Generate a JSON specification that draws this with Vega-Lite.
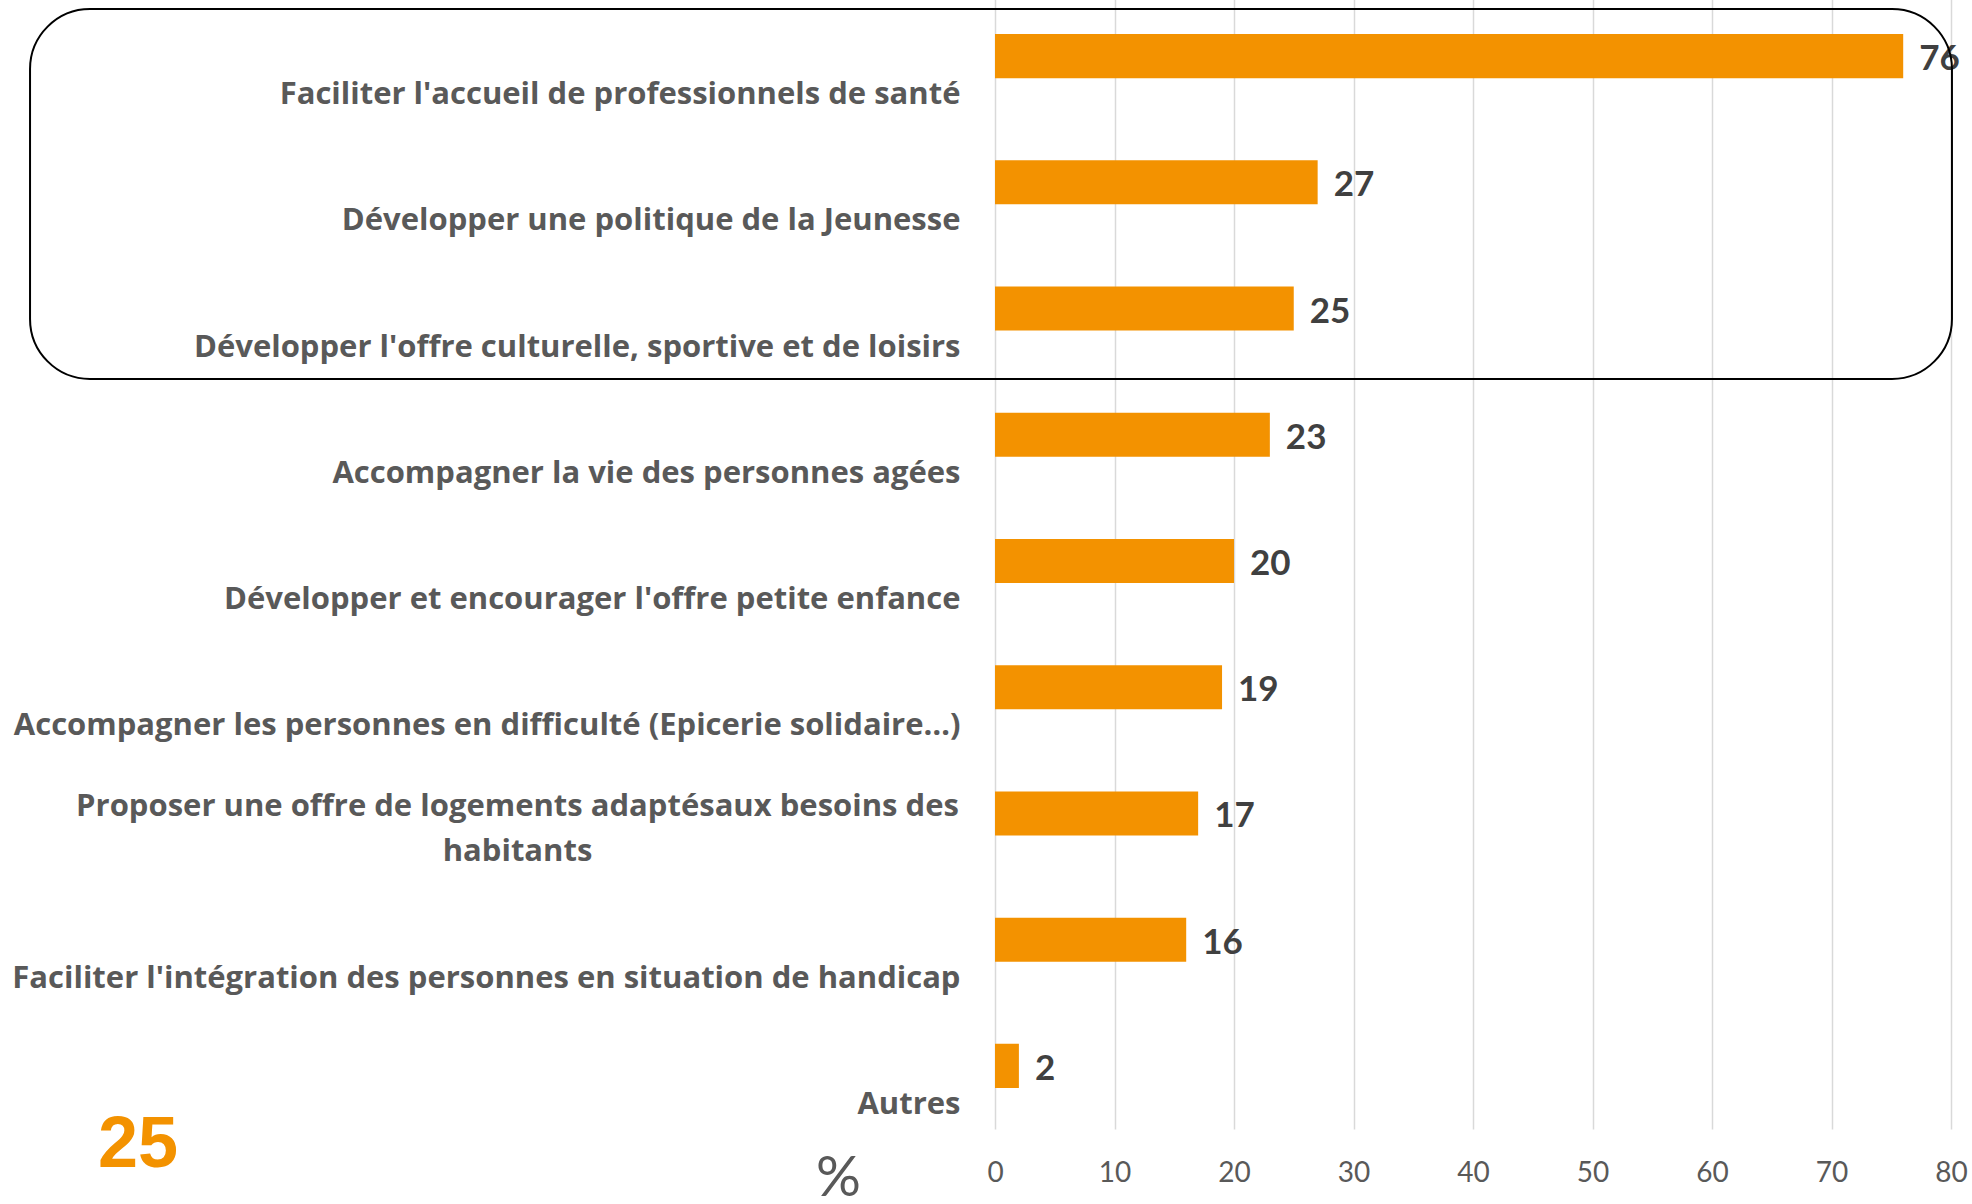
{
  "$schema": "https://vega.github.io/schema/vega-lite/v6.json",
  "autosize": "none",
  "width": 956,
  "height": 1136,
  "padding": {"left": 995, "top": -7, "right": 21, "bottom": 75},
  "background": "white",
  "config": {"view": {"stroke": null}},
  "title": {
    "text": "25",
    "orient": "bottom",
    "anchor": "start",
    "frame": "group",
    "dx": -897,
    "dy": -100,
    "font": "Liberation Sans",
    "fontSize": 72,
    "fontWeight": "bold",
    "color": "#F39200"
  },
  "datasets": {
    "bars": [
      {"item": "Faciliter l'accueil de professionnels de santé", "pct": 76},
      {"item": "Développer une politique de la Jeunesse", "pct": 27},
      {"item": "Développer l'offre culturelle, sportive et de loisirs", "pct": 25},
      {"item": "Accompagner la vie des personnes agées", "pct": 23},
      {"item": "Développer et encourager l'offre petite enfance", "pct": 20},
      {"item": "Accompagner les personnes en difficulté (Epicerie solidaire…)", "pct": 19},
      {"item": "Proposer une offre de logements adaptésaux besoins des habitants", "pct": 17},
      {"item": "Faciliter l'intégration des personnes en situation de handicap", "pct": 16},
      {"item": "Autres", "pct": 2}
    ],
    "box": [
      {"x0": -80.75, "x1": 80.08, "y0": 0.127, "y1": 3.058}
    ]
  },
  "layer": [
    {
      "data": {"name": "bars"},
      "layer": [
        {
          "mark": {"type": "bar", "color": "#F39200"},
          "encoding": {
            "y": {
              "field": "item",
              "type": "nominal",
              "sort": null,
              "scale": {"paddingInner": 0.651, "paddingOuter": 0.3255},
              "axis": {
                "title": null,
                "domain": false,
                "ticks": false,
                "labelLimit": 0,
                "labelFont": "Open Sans",
                "labelFontSize": 31,
                "labelFontWeight": "bold",
                "labelColor": "#595959",
                "labelOffset": {"condition": {"test": "indexof(datum.value, 'habitants') >= 0", "value": 3}, "value": 48},
                "labelBaseline": "alphabetic",
                "labelLineHeight": 45,
                "labelAlign": {"condition": {"test": "indexof(datum.value, 'habitants') >= 0", "value": "center"}, "value": "right"},
                "labelPadding": {"condition": {"test": "indexof(datum.value, 'habitants') >= 0", "value": 478}, "value": 35},
                "labelExpr": "indexof(datum.label, 'habitants') >= 0 ? ['Proposer une offre de logements adaptésaux besoins des', 'habitants'] : datum.label"
              }
            },
            "x": {
              "field": "pct",
              "type": "quantitative",
              "scale": {"domain": [0, 80], "nice": false},
              "axis": {
                "values": [0, 10, 20, 30, 40, 50, 60, 70, 80],
                "grid": true,
                "gridColor": "#D9D9D9",
                "gridWidth": 1.5,
                "domain": false,
                "ticks": false,
                "labelFlush": false,
                "labelFont": "Lato",
                "labelFontSize": 28,
                "labelColor": "#595959",
                "labelPadding": 30,
                "title": "%",
                "titleFont": "Lato",
                "titleFontSize": 56,
                "titleFontWeight": "normal",
                "titleColor": "#595959",
                "titleX": -157,
                "titleY": 49,
                "titleAlign": "center",
                "titleBaseline": "middle",
                "titleAngle": 0
              }
            }
          }
        },
        {
          "mark": {"type": "text", "align": "left", "baseline": "middle", "dx": 16, "dy": 3, "font": "Lato", "fontSize": 35, "fontWeight": "bold", "color": "#404040"},
          "encoding": {
            "y": {"field": "item", "type": "nominal", "sort": null},
            "x": {"field": "pct", "type": "quantitative"},
            "text": {"field": "pct", "type": "quantitative"}
          }
        }
      ]
    },
    {
      "data": {"name": "box"},
      "mark": {"type": "rect", "filled": false, "stroke": "#000000", "strokeWidth": 2, "cornerRadius": 60, "clip": false},
      "encoding": {
        "x": {"field": "x0", "type": "quantitative"},
        "x2": {"field": "x1"},
        "y": {"field": "y0", "type": "quantitative", "scale": {"domain": [0, 9], "reverse": true, "nice": false, "zero": false}, "axis": null},
        "y2": {"field": "y1"}
      }
    }
  ],
  "resolve": {"scale": {"y": "independent"}, "axis": {"y": "independent"}}
}
